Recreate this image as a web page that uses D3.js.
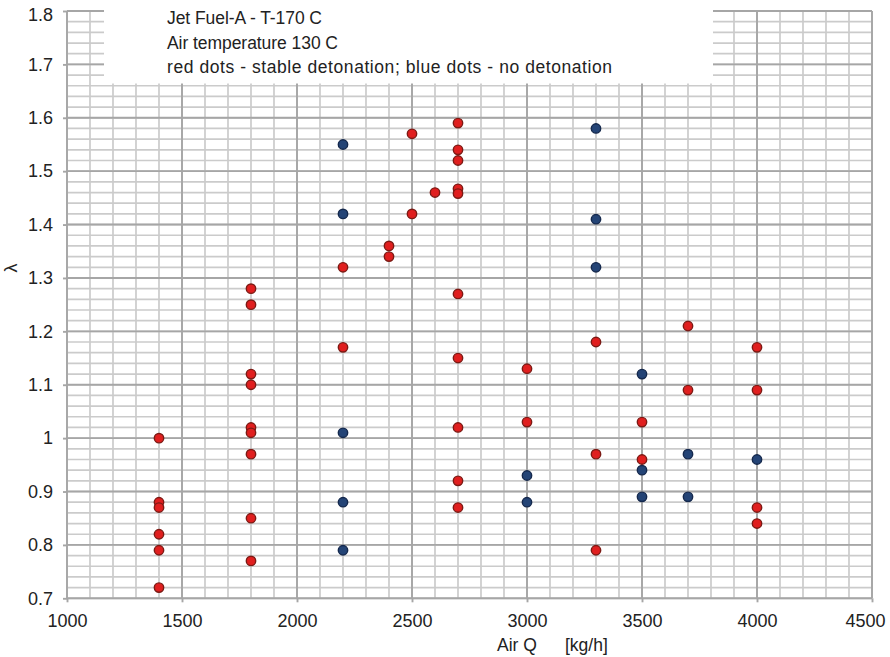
<!DOCTYPE html>
<html>
<head>
<meta charset="utf-8">
<script src="https://cdn.jsdelivr.net/npm/d3@7"></script>
<style>
  html, body { margin: 0; padding: 0; background: #fff; }
  svg { display: block; font-family: "Liberation Sans", Arial, Helvetica, sans-serif; }
</style>
</head>
<body>
<svg id="chart" width="890" height="657"></svg>
<script>
// ---- data ----
const xTickValues = [1000, 1500, 2000, 2500, 3000, 3500, 4000, 4500];
const xTickLabels = ["1000", "1500", "2000", "2500", "3000", "3500", "4000", "4500"];
const yTickValues = [0.7, 0.8, 0.9, 1.0, 1.1, 1.2, 1.3, 1.4, 1.5, 1.6, 1.7, 1.8];
const yTickLabels = ["0.7", "0.8", "0.9", "1", "1.1", "1.2", "1.3", "1.4", "1.5", "1.6", "1.7", "1.8"];

// red dots - stable detonation
const stableQ = [
  1400, 1400, 1400, 1400, 1400, 1400,
  1800, 1800, 1800, 1800, 1800, 1800, 1800, 1800, 1800,
  2200, 2200,
  2400, 2400,
  2500, 2500,
  2600,
  2700, 2700, 2700, 2700, 2700, 2700, 2700, 2700, 2700, 2700,
  3000, 3000,
  3300, 3300, 3300,
  3500, 3500,
  3700, 3700,
  4000, 4000, 4000, 4000
];
const stableLambda = [
  1.00, 0.88, 0.87, 0.82, 0.79, 0.72,
  1.28, 1.25, 1.12, 1.10, 1.02, 1.01, 0.97, 0.85, 0.77,
  1.32, 1.17,
  1.36, 1.34,
  1.57, 1.42,
  1.46,
  1.59, 1.54, 1.52, 1.467, 1.458, 1.27, 1.15, 1.02, 0.92, 0.87,
  1.13, 1.03,
  1.18, 0.97, 0.79,
  1.03, 0.96,
  1.21, 1.09,
  1.17, 1.09, 0.87, 0.84
];

// blue dots - no detonation
const noDetQ = [
  2200, 2200, 2200, 2200, 2200,
  3000, 3000,
  3300, 3300, 3300,
  3500, 3500, 3500,
  3700, 3700,
  4000
];
const noDetLambda = [
  1.55, 1.42, 1.01, 0.88, 0.79,
  0.93, 0.88,
  1.58, 1.41, 1.32,
  1.12, 0.94, 0.89,
  0.97, 0.89,
  0.96
];

const legendLines = [
  "Jet Fuel-A - T-170 C",
  "Air temperature 130 C",
  "red dots - stable detonation; blue dots - no detonation"
];
const xTitle = ["Air Q", "[kg/h]"];
const yTitle = "λ";

// ---- layout ----
const svg = d3.select("#chart");
const x = d3.scaleLinear().domain([1000, 4500]).range([67, 872]);
const y = d3.scaleLinear().domain([0.7, 1.8]).range([598.3, 11]);

const minorX = d3.range(10, 46).map(v => v * 100);
const minorY = d3.range(35, 91).map(v => v / 50);

const grid = svg.append("g");
// minor grid
grid.selectAll("line.mx").data(minorX).join("line")
  .attr("x1", d => x(d)).attr("x2", d => x(d))
  .attr("y1", y(0.7)).attr("y2", y(1.8))
  .attr("stroke", "#cbcbcb").attr("stroke-width", 1.7);
grid.selectAll("line.my").data(minorY).join("line")
  .attr("x1", x(1000)).attr("x2", x(4500))
  .attr("y1", d => y(d)).attr("y2", d => y(d))
  .attr("stroke", "#cbcbcb").attr("stroke-width", 1.7);
// major grid
grid.selectAll("line.Mx").data(xTickValues).join("line")
  .attr("x1", d => x(d)).attr("x2", d => x(d))
  .attr("y1", y(0.7)).attr("y2", y(1.8))
  .attr("stroke", "#a6a6a6").attr("stroke-width", 1.9);
grid.selectAll("line.My").data(yTickValues).join("line")
  .attr("x1", x(1000)).attr("x2", x(4500))
  .attr("y1", d => y(d)).attr("y2", d => y(d))
  .attr("stroke", "#a6a6a6").attr("stroke-width", 1.9);

// axes
const xAxis = d3.axisBottom(x).tickValues(xTickValues)
  .tickFormat((d, i) => xTickLabels[i]).tickSize(4).tickPadding(12);
const gx = svg.append("g").attr("transform", `translate(0,${y(0.7)})`).call(xAxis);
gx.select(".domain").remove();
gx.selectAll(".tick line").attr("stroke", "#a6a6a6").attr("stroke-width", 1.9);
gx.selectAll(".tick text").attr("font-size", 18).attr("fill", "#222")
  .attr("font-family", "'Liberation Sans', Arial, sans-serif");
gx.selectAll(".tick text").filter((d, i) => i === xTickValues.length - 1)
  .attr("text-anchor", "end").attr("x", 885 - x(4500));

const yAxis = d3.axisLeft(y).tickValues(yTickValues)
  .tickFormat((d, i) => yTickLabels[i]).tickSize(4).tickPadding(10);
const gy = svg.append("g").attr("transform", `translate(${x(1000)},0)`).call(yAxis);
gy.select(".domain").remove();
gy.selectAll(".tick line").attr("stroke", "#a6a6a6").attr("stroke-width", 1.9);
gy.selectAll(".tick text").attr("font-size", 18).attr("fill", "#222")
  .attr("font-family", "'Liberation Sans', Arial, sans-serif");
gy.selectAll(".tick text").filter((d, i) => i === yTickValues.length - 1).attr("dy", "0.55em");

// white legend box covering the grid
svg.append("rect").attr("x", 104).attr("y", 0).attr("width", 609).attr("height", 83.5)
  .attr("fill", "#fff");

// legend text
const legendWidths = [155, 171, 445];
svg.append("g").selectAll("text").data(legendLines).join("text")
  .attr("x", 167).attr("y", (d, i) => 24 + i * 24.5)
  .attr("font-size", 17.5).attr("fill", "#222")
  .attr("textLength", (d, i) => legendWidths[i])
  .attr("lengthAdjust", "spacing")
  .text(d => d);

// titles
svg.append("text").attr("x", 497).attr("y", 651).attr("font-size", 17.5).attr("fill", "#222").text(xTitle[0]);
svg.append("text").attr("x", 565).attr("y", 651).attr("font-size", 17.5).attr("fill", "#222").text(xTitle[1]);
svg.append("text").attr("transform", "translate(17,268) rotate(-90)")
  .attr("text-anchor", "middle").attr("font-size", 18).attr("fill", "#222").text(yTitle);

// dots
const stable = stableQ.map((q, i) => ({ q, l: stableLambda[i] }));
const noDet = noDetQ.map((q, i) => ({ q, l: noDetLambda[i] }));

svg.append("g").selectAll("circle").data(stable).join("circle")
  .attr("cx", d => x(d.q)).attr("cy", d => y(d.l)).attr("r", 4.7)
  .attr("fill", "#e01f1f").attr("stroke", "#7c1a14").attr("stroke-width", 1.4);
svg.append("g").selectAll("circle").data(noDet).join("circle")
  .attr("cx", d => x(d.q)).attr("cy", d => y(d.l)).attr("r", 4.7)
  .attr("fill", "#244476").attr("stroke", "#15294d").attr("stroke-width", 1.4);
</script>
</body>
</html>
